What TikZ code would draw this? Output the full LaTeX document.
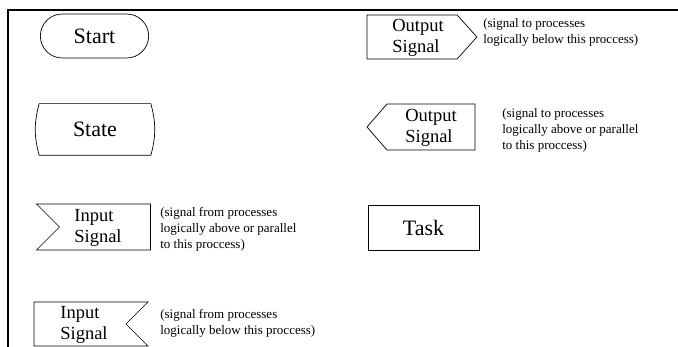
\documentclass[tikz,border=0pt]{standalone}
\usepackage{fontspec}
\setmainfont{Liberation Serif}
\usetikzlibrary{shapes.misc,shapes.symbols,positioning}

\begin{document}
\begin{tikzpicture}[x=1pt,y=-1pt,line width=0.7pt,
		big/.style={font=\fontsize{22}{24}\selectfont},
		sig/.style={draw, shape=signal, inner sep=0pt, minimum height=46pt},
		sigtext/.style={anchor=west, align=left, inner sep=0pt, font=\fontsize{18.5}{21.5}\selectfont},
		note/.style={anchor=west, align=left, inner sep=0pt, font=\fontsize{13}{16}\selectfont}]
		\useasboundingbox (0,0) rectangle (678,347);

		%coordinates
		\coordinate (fbot)  at (8,347);
		\coordinate (fcorn) at (8,10);
		\coordinate (fend)  at (678,10);

		%frame
		\draw[line width=2pt] (fbot) -- (fcorn) -- (fend);

		%left column
		\node[draw, big, rounded rectangle, minimum width=115pt, minimum height=44pt] (start) at (94.5,36) {Start};
		\node[big, minimum width=111pt, minimum height=51pt] (state) at (95,129.5) {State};
		\draw (state.north west) -- (state.north east) to[bend left=15] (state.south east)
			-- (state.south west) to[bend left=15] (state.north west);

		\node[sig, signal to=nowhere, signal from=west, minimum width=114pt] (inA) at (105,227) {};
		\node[sigtext] (inAtxt) at (74,228) {Input\\Signal};
		\node[note] (inAnote) at (160,229) {(signal from processes\\logically above or parallel\\to this proccess)};

		\node[sig, signal to=nowhere, signal from=east, minimum width=114pt, minimum height=44pt] (inB) at (80,324) {};
		\node[sigtext] (inBtxt) at (60,325) {Input\\Signal};
		\node[note] (inBnote) at (160,323) {(signal from processes\\logically below this proccess)};

		%right column
		\node[sig, signal to=east, signal pointer angle=96, minimum width=110pt, minimum height=44pt] (outA) at (412,37) {};
		\node[sigtext] (outAtxt) at (392,38) {Output\\Signal};
		\node[note] (outAnote) at (483,32) {(signal to processes\\logically below this proccess)};

		\node[sig, signal to=west, signal pointer angle=98, minimum width=108pt] (outB) at (431,127) {};
		\node[sigtext] (outBtxt) at (405,128) {Output\\Signal};
		\node[note] (outBnote) at (502,130) {(signal to processes\\logically above or parallel\\to this proccess)};

		\node[draw, big, minimum width=111pt, minimum height=45pt] (task) at (423.5,227.5) {Task};
\end{tikzpicture}
\end{document}
